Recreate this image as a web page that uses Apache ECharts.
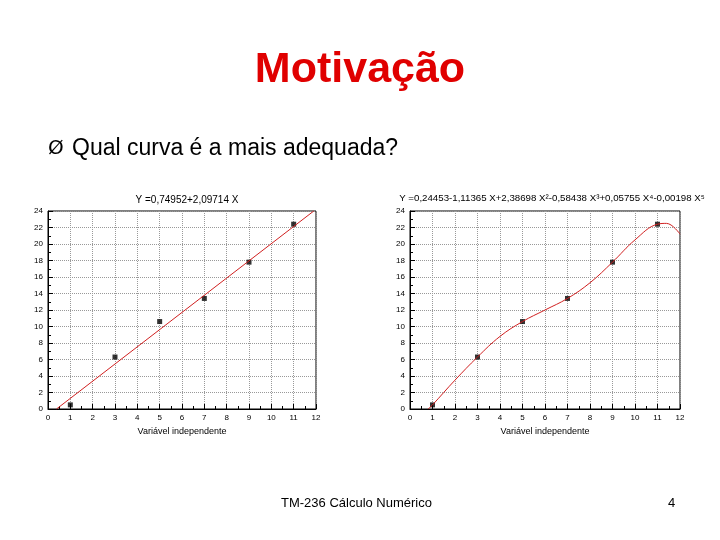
<!DOCTYPE html><html><head><meta charset="utf-8"><script src="https://cdn.jsdelivr.net/npm/echarts@6/dist/echarts.min.js"></script>
<style>body{margin:0;background:#fff}#c{width:720px;height:540px}</style></head><body><div id="c"></div><script>
const pointsX=[1,3,5,7,9,11];
const pointsY=[0.5,6.3,10.6,13.4,17.8,22.4];
const lineFit=[[0.38,0],[11.9,24]];
const polyFit=[[0.8,0],[1,0.5],[2,3.5],[3,6.3],[4,8.8],[5,10.6],[6,12],[7,13.4],[8,15.3],[9,17.8],[10,20.5],[11,22.4],[11.4,22.5],[12,21.2]];
const titles=['Y =0,74952+2,09714 X','Y =0,24453-1,11365 X+2,38698 X²-0,58438 X³+0,05755 X⁴-0,00198 X⁵'];
const pts=pointsX.map((x,i)=>[x,pointsY[i]]);
const grids=[{left:48,width:268,top:211,height:198},{left:410,width:270,top:211,height:198}];
const ax=(i)=>({gridIndex:i,min:0,max:12,interval:1,axisLine:{show:true,onZero:false,lineStyle:{color:'#000'}},axisTick:{inside:true,lineStyle:{color:'#000'}},minorTick:{show:true,splitNumber:2},axisLabel:{fontSize:8,color:'#000',margin:5},splitLine:{show:true,lineStyle:{type:'dotted',color:'#999'}},name:'Variável independente',nameLocation:'middle',nameGap:18,nameTextStyle:{fontSize:9,color:'#000'}});
const ay=(i)=>({gridIndex:i,min:0,max:24,interval:2,axisLine:{show:true,lineStyle:{color:'#000'}},axisTick:{inside:true,lineStyle:{color:'#000'}},minorTick:{show:true,splitNumber:2},axisLabel:{fontSize:8,color:'#000',margin:5},splitLine:{show:true,lineStyle:{type:'dotted',color:'#999'}}});
const ch=echarts.init(document.getElementById('c'));
ch.setOption({animation:false,
title:[{text:'Motivação',left:'center',top:44,textStyle:{color:'#e00000',fontSize:43,fontWeight:'bold',fontFamily:'Liberation Sans'}},
{text:titles[0],left:182,textAlign:'center',top:190,textStyle:{fontSize:10,fontWeight:'normal',color:'#000'}},
{text:titles[1],left:547,textAlign:'center',top:188,textStyle:{fontSize:9.7,fontWeight:'normal',color:'#000'}}],
graphic:[{type:'text',left:48,top:139,style:{text:'Ø',fontSize:20,fill:'#000',fontFamily:'DejaVu Sans'}},
{type:'text',left:72,top:137,style:{text:'Qual curva é a mais adequada?',fontSize:23,fill:'#000',fontFamily:'Liberation Sans'}},
{type:'text',left:281,top:497,style:{text:'TM-236 Cálculo Numérico',fontSize:13,fill:'#000',fontFamily:'Liberation Sans'}},
{type:'text',left:668,top:497,style:{text:'4',fontSize:13,fill:'#000',fontFamily:'Liberation Sans'}},
{type:'rect',shape:{x:48,y:211,width:268,height:198},style:{fill:'none',stroke:'#000'}},
{type:'rect',shape:{x:410,y:211,width:270,height:198},style:{fill:'none',stroke:'#000'}}],
grid:grids,xAxis:[ax(0),ax(1)],yAxis:[ay(0),ay(1)],
series:[
{type:'line',xAxisIndex:0,yAxisIndex:0,data:lineFit,showSymbol:false,lineStyle:{color:'#d02020',width:1}},
{type:'scatter',xAxisIndex:0,yAxisIndex:0,data:pts,symbol:'rect',symbolSize:5,itemStyle:{color:'#000'}},
{type:'line',xAxisIndex:1,yAxisIndex:1,data:polyFit,smooth:0.4,showSymbol:false,lineStyle:{color:'#d02020',width:1},clip:true},
{type:'scatter',xAxisIndex:1,yAxisIndex:1,data:pts,symbol:'rect',symbolSize:5,itemStyle:{color:'#000'}}]});
</script></body></html>
